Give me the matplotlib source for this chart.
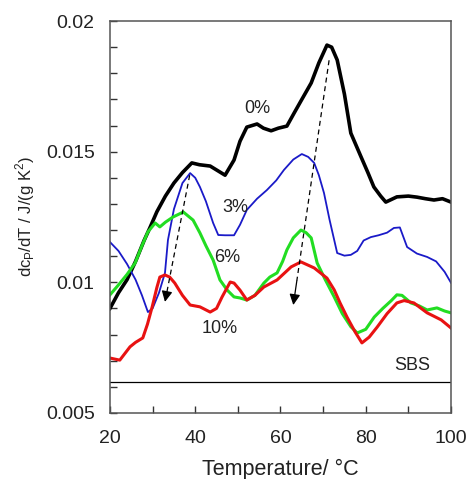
import numpy as np
import matplotlib
matplotlib.use('Agg')
import matplotlib.pyplot as plt

plt.rcParams['font.family'] = ['Liberation Sans', 'DejaVu Sans']

# curves: temperature (C) and dcp/dT (J/(g K^2))
t_0 = [20, 22, 24, 26, 28, 29.4, 31, 33, 35, 37, 39.2, 41, 43.5, 45, 47, 49.1, 50.5, 52.1,
       54.5, 56, 57.8, 59.5, 61.5, 63.2, 65, 67.2, 69, 70.9, 72, 73.3, 75, 76.5, 78.9, 80.5,
       81.9, 83.5, 84.7, 87.3, 90, 92, 94, 96, 98, 100]
v_0 = [0.0090, 0.0096, 0.0101, 0.0108, 0.0116, 0.0121, 0.0127, 0.0133, 0.0138, 0.0142, 0.01457,
       0.0145, 0.01445, 0.0143, 0.0141, 0.01468, 0.0154, 0.01594, 0.01606, 0.0159, 0.0158,
       0.0159, 0.01598, 0.01648, 0.0170, 0.01763, 0.0184, 0.01908, 0.0190, 0.01851, 0.0172,
       0.01571, 0.0148, 0.0142, 0.01365, 0.0133, 0.01307, 0.01327, 0.0133, 0.01326, 0.0132,
       0.01315, 0.0132, 0.01307]

t_3 = [20, 22, 24, 26, 27.5, 28.9, 30, 31.5, 32.9, 33.6, 35, 37, 38.8, 40, 41.1, 42.5, 44.2,
       45.4, 47, 49.1, 50.5, 52.1, 54.5, 56.8, 59, 60.8, 63, 65, 66.5, 67.9, 69, 70.2, 71.5,
       73.3, 75, 76.5, 78, 79.5, 81.2, 83, 85, 86.6, 88, 89.7, 92, 94.4, 96.5, 98.5, 100]
v_3 = [0.01154, 0.0112, 0.0107, 0.0101, 0.0095, 0.00886, 0.0090, 0.0096, 0.01036, 0.01162,
       0.0128, 0.0138, 0.01418, 0.0140, 0.01365, 0.0131, 0.01227, 0.01181, 0.0118, 0.0118,
       0.0122, 0.01277, 0.0132, 0.01353, 0.0139, 0.0143, 0.0147, 0.01491, 0.0148, 0.01457,
       0.0141, 0.01342, 0.0124, 0.01112, 0.01102, 0.01105, 0.0112, 0.0116, 0.01173, 0.0118,
       0.0119, 0.01208, 0.0121, 0.01135, 0.0111, 0.01097, 0.0108, 0.0104, 0.00998]

t_6 = [20, 22, 24, 25.9, 27.5, 28.9, 30.6, 31.7, 33, 34.8, 37.2, 39.5, 41.1, 42.5, 44.2, 45.8,
       47.5, 49.1, 50.5, 52.1, 54, 56.1, 57.5, 59.2, 60.5, 61.5, 63, 64.8, 66, 67.2, 68.6, 70.5,
       72.6, 74.5, 76.5, 78, 80, 82, 84, 86, 87.3, 88.5, 90.6, 92.5, 94.4, 96.7, 98.5, 100]
v_6 = [0.00952, 0.0099, 0.0103, 0.01074, 0.0114, 0.01193, 0.01227, 0.01212, 0.0123, 0.0125,
       0.01269, 0.01238, 0.01189, 0.0114, 0.01085, 0.01009, 0.0097, 0.00944, 0.0094, 0.00932,
       0.0095, 0.00997, 0.0102, 0.01036, 0.0108, 0.01124, 0.0117, 0.0120, 0.0119, 0.0117,
       0.01074, 0.0101, 0.00944, 0.0088, 0.0083, 0.00806, 0.0082, 0.00867, 0.0090, 0.0093,
       0.00952, 0.0095, 0.00921, 0.0091, 0.00894, 0.00902, 0.0089, 0.00883]

t_10 = [20, 22.3, 24.7, 26, 27.7, 28.8, 29.9, 31, 31.7, 32.9, 34, 35.2, 37, 38.8, 41.1, 43.5,
        45, 46.3, 48.2, 49.1, 50.5, 52.1, 54, 56.1, 59.2, 62.5, 64.8, 67.9, 70.9, 72.6, 74,
        75.6, 77.5, 79.1, 80.8, 82.7, 85, 87.3, 89, 91.3, 93, 94.4, 96, 97.7, 100]
v_10 = [0.0071, 0.00702, 0.00753, 0.0077, 0.00787, 0.0084, 0.00906, 0.0098, 0.0102, 0.01028,
        0.0102, 0.00997, 0.0095, 0.00913, 0.00906, 0.00886, 0.0090, 0.00944, 0.01001, 0.00997,
        0.0097, 0.00932, 0.0095, 0.00982, 0.01009, 0.01059, 0.01078, 0.01055, 0.01016, 0.00971,
        0.0092, 0.00867, 0.0081, 0.00768, 0.0079, 0.00829, 0.0088, 0.00921, 0.0093, 0.00921,
        0.0090, 0.00883, 0.0087, 0.00856, 0.00825]

sbs_level = 0.0062

# dashed shift arrows: (start T, start v, tip T, tip v)
arrows = [(38.7, 0.0141, 32.9, 0.00925), (71.4, 0.0185, 63.0, 0.00913)]

labels = ['0%', '3%', '6%', '10%', 'SBS']
label_t = [54.5, 49.3, 47.4, 45.8, 90.9]
label_v = [0.01667, 0.01288, 0.01093, 0.00825, 0.0068]

fig = plt.figure(figsize=(4.68, 4.79), dpi=100)
ax = fig.add_axes([0.235, 0.138, 0.7287, 0.818])

ax.plot(t_0, v_0, color='black', lw=2.6, solid_joinstyle='round')
ax.plot(t_3, v_3, color='#1a1ac8', lw=1.3, solid_joinstyle='round')
ax.plot(t_6, v_6, color='#22dd22', lw=2.2, solid_joinstyle='round')
ax.plot(t_10, v_10, color='#e81212', lw=2.2, solid_joinstyle='round')
ax.axhline(sbs_level, color='black', lw=0.9)

for t0, v0, t1, v1 in arrows:
    # dashed shaft, then a filled head at the tip
    f = 0.9
    tm, vm = t0 + f * (t1 - t0), v0 + f * (v1 - v0)
    ax.plot([t0, tm], [v0, vm], color='black', lw=0.9, ls=(0, (4, 3)))
    ax.annotate('', xy=(t1, v1), xytext=(tm, vm),
                arrowprops=dict(arrowstyle='-|>', color='black', lw=0.9,
                                mutation_scale=16, shrinkA=0, shrinkB=0))

for s, tx, vy in zip(labels, label_t, label_v):
    ax.text(tx, vy, s, fontsize=13, ha='center', va='center', color='#222222')

ax.set_xlim(20, 100)
ax.set_ylim(0.005, 0.02)
ax.set_xticks([20, 40, 60, 80, 100])
ax.set_xticklabels(['20', '40', '60', '80', '100'])
ax.set_xticks(np.arange(30, 100, 10), minor=True)
ax.set_yticks([0.005, 0.01, 0.015, 0.02])
ax.set_yticklabels(['0.005', '0.01', '0.015', '0.02'])
ax.set_yticks(np.arange(0.006, 0.0200, 0.001), minor=True)
ax.tick_params(which='both', direction='in', length=5, width=1, labelsize=14,
               colors='#333333', labelcolor='#222222')
ax.tick_params(axis='y', pad=11)
ax.tick_params(axis='x', pad=12)
for sp in ax.spines.values():
    sp.set_color('#555555')
    sp.set_linewidth(1.1)

ax.set_xlabel('Temperature/ \u00b0C', fontsize=15.5, labelpad=9, color='#222222')
ax.set_ylabel(r'dc$_\mathregular{P}$/dT / J/(g K$^\mathregular{2}$)', fontsize=12,
              labelpad=6, color='#222222')

fig.savefig('out.png', dpi=100)
